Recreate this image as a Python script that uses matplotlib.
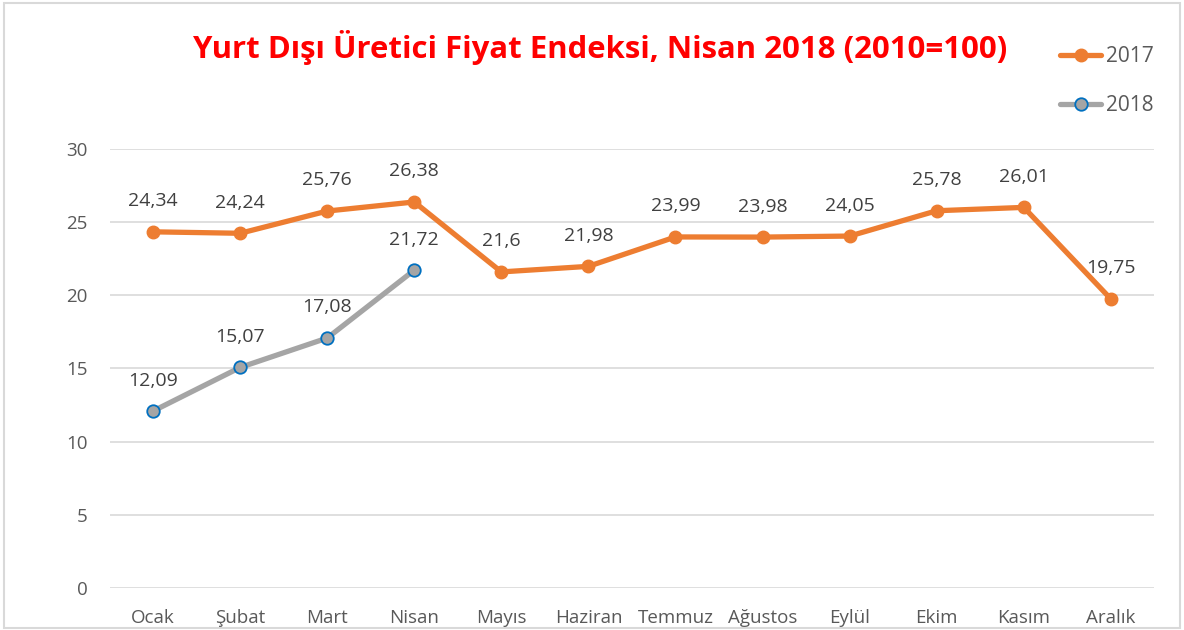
import matplotlib.pyplot as plt
from matplotlib.patches import Rectangle

plt.rcParams['font.family'] = ['Open Sans', 'DejaVu Sans']

# Data
months = ['Ocak', 'Şubat', 'Mart', 'Nisan', 'Mayıs', 'Haziran', 'Temmuz',
          'Ağustos', 'Eylül', 'Ekim', 'Kasım', 'Aralık']
values_2017 = [24.34, 24.24, 25.76, 26.38, 21.6, 21.98, 23.99, 23.98, 24.05, 25.78, 26.01, 19.75]
values_2018 = [12.09, 15.07, 17.08, 21.72]
yticks = [0, 5, 10, 15, 20, 25, 30]

orange = '#ED7D31'
gray = '#A5A5A5'
blue = '#0070C0'
text_col = '#404040'

fig = plt.figure(figsize=(11.84, 6.3), dpi=100)
ax = fig.add_axes([0.0925, 0.0667, 0.8825, 0.6968])

x17 = range(len(values_2017))
x18 = range(len(values_2018))
ax.plot(x17, values_2017, color=orange, lw=3.8, marker='o', ms=9,
        mfc=orange, mec=orange, label='2017', solid_capstyle='round')
ax.plot(x18, values_2018, color=gray, lw=3.8, marker='o', ms=9,
        mfc=gray, mec=blue, mew=1.3, label='2018', solid_capstyle='round')

def fmt(v):
    return f'{v:g}'.replace('.', ',')

for x, v in zip(x17, values_2017):
    ax.annotate(fmt(v), (x, v), xytext=(0, 22), textcoords='offset points',
                ha='center', va='center', fontsize=14, color=text_col)
for x, v in zip(x18, values_2018):
    ax.annotate(fmt(v), (x, v), xytext=(0, 22), textcoords='offset points',
                ha='center', va='center', fontsize=14, color=text_col)

ax.set_xlim(-0.5, len(months) - 0.5)
ax.set_ylim(0, 30)
ax.set_yticks(yticks)
ax.set_xticks(range(len(months)))
ax.set_xticklabels(months)
ax.tick_params(axis='both', length=0, labelsize=13.5, labelcolor='#595959')
ax.tick_params(axis='x', pad=15)
ax.tick_params(axis='y', pad=16)
ax.grid(axis='y', color='#D9D9D9', lw=1.2)
ax.set_axisbelow(True)
for s in ax.spines.values():
    s.set_visible(False)

fig.text(0.507, 0.924, 'Yurt Dışı Üretici Fiyat Endeksi, Nisan 2018 (2010=100)',
         ha='center', va='center', fontsize=22.4, fontweight='bold', color='#FF0000')

handles, labels = ax.get_legend_handles_labels()
fig.legend(handles, labels, loc='upper left', bbox_to_anchor=(0.888, 0.94),
           frameon=False, fontsize=15, labelcolor='#595959', handlelength=2.0,
           handletextpad=0.2, labelspacing=1.35, borderaxespad=0)

fig.patches.append(Rectangle((0.003, 0.003), 0.994, 0.992, transform=fig.transFigure,
                             fill=False, edgecolor='#D9D9D9', lw=1.5))

fig.savefig('out.png', dpi=100)
